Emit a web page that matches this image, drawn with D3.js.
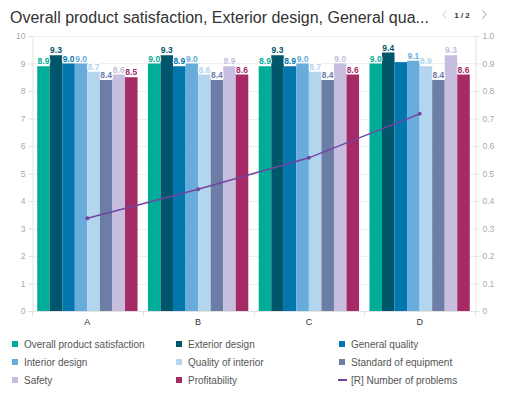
<!DOCTYPE html>
<html>
<head>
<meta charset="utf-8">
<script src="https://cdn.jsdelivr.net/npm/d3@7"></script>
<style>
  body { margin: 0; background: #fff; font-family: "Liberation Sans", Arial, sans-serif; }
</style>
</head>
<body>
<div id="chart"></div>
<script>
let WIDTH = 507,
    HEIGHT = 395;

// chart data
const categories = ["A", "B", "C", "D"];
const seriesNames = [
  "Overall product satisfaction", "Exterior design", "General quality",
  "Interior design", "Quality of interior", "Standard of equipment",
  "Safety", "Profitability"
];
const seriesColors = [
  "#00ad98", "#00566a", "#0277ad", "#68acdb",
  "#b3d5ee", "#6c7da6", "#c6bddf", "#a62a66"
];
// one row per category, one value per series
const valuesA = [8.9, 9.3, 9.0, 9.0, 8.7, 8.4, 8.6, 8.5];
const valuesB = [9.0, 9.3, 8.9, 9.0, 8.6, 8.4, 8.9, 8.6];
const valuesC = [8.9, 9.3, 8.9, 9.0, 8.7, 8.4, 9.0, 8.6];
const valuesD = [9.0, 9.4, 9.05, 9.1, 8.9, 8.4, 9.3, 8.6];
const barValues = [valuesA, valuesB, valuesC, valuesD];
// right axis line series
const lineName = "[R] Number of problems";
const lineColor = "#7045a0";
const problems = [0.337, 0.443, 0.557, 0.717];
// labels the chart hid because they overlap their neighbours
const hiddenLabels = ["D|General quality"];

const leftTicks = d3.range(0, 11);
const rightTicks = [0, 0.1, 0.2, 0.3, 0.4, 0.5, 0.6, 0.7, 0.8, 0.9, 1.0];

const margin = { top: 36, left: 32, right: 32, bottom: 84 };
const plotW = WIDTH - margin.left - margin.right;
const plotH = HEIGHT - margin.top - margin.bottom;

let svg = d3.select("#chart")
    .append("svg")
    .attr("width", WIDTH)
    .attr("height", HEIGHT)
    .style("font-family", "'Liberation Sans', Arial, sans-serif");

// title and pager
svg.append("text")
    .attr("x", 10).attr("y", 23)
    .attr("font-size", 16)
    .attr("fill", "#333")
    .text("Overall product satisfaction, Exterior design, General qua...");
svg.append("path").attr("d", "M446.5,10.5 L443,14.5 L446.5,18.5")
    .attr("fill", "none").attr("stroke", "#ccc").attr("stroke-width", 1);
svg.append("text").attr("x", 462).attr("y", 17.5).attr("font-size", 8).attr("font-weight", "bold")
    .attr("text-anchor", "middle").attr("fill", "#333").text("1 / 2");
svg.append("path").attr("d", "M482.5,10.5 L486,14.5 L482.5,18.5")
    .attr("fill", "none").attr("stroke", "#999").attr("stroke-width", 1);

const g = svg.append("g").attr("transform", `translate(${margin.left},${margin.top})`);

const x0 = d3.scaleBand().domain(categories).range([0, plotW]).paddingInner(0.094).paddingOuter(0.047);
const x1 = d3.scaleBand().domain(seriesNames).range([0, x0.bandwidth()]);
const yL = d3.scaleLinear().domain([0, 10]).range([plotH, 0]);
const yR = d3.scaleLinear().domain([0, 1]).range([plotH, 0]);
const xOuter = d3.scaleBand().domain(categories).range([0, plotW]);

// grid lines
g.append("g").selectAll("line")
    .data(leftTicks)
    .enter().append("line")
    .attr("x1", 0).attr("x2", plotW)
    .attr("y1", d => Math.round(yL(d)) + 0.5).attr("y2", d => Math.round(yL(d)) + 0.5)
    .attr("stroke", "#eeeeee");

// left axis
const leftAxis = g.append("g")
    .attr("transform", "translate(0.5,0)")
    .call(d3.axisLeft(yL).tickValues(leftTicks).tickSize(4).tickPadding(3).tickFormat(d3.format("d")));
leftAxis.selectAll("text").attr("fill", "#aaa").attr("font-size", 8.5).style("font-family", "inherit");
leftAxis.selectAll("line").attr("stroke", "#e2e2e2");
leftAxis.select(".domain").attr("stroke", "#e2e2e2");

// right axis
const rightAxis = g.append("g")
    .attr("transform", `translate(${plotW + 0.5},0)`)
    .call(d3.axisRight(yR).tickValues(rightTicks).tickSize(4).tickPadding(3)
        .tickFormat(d => d === 0 ? "0" : d3.format(".1f")(d)));
rightAxis.selectAll("text").attr("fill", "#aaa").attr("font-size", 8.5).style("font-family", "inherit");
rightAxis.selectAll("line").attr("stroke", "#e2e2e2");
rightAxis.select(".domain").attr("stroke", "#e2e2e2");

// bottom axis: ticks at category boundaries
const bottom = g.append("g").attr("transform", `translate(0,${plotH})`);
bottom.append("line").attr("x1", 0).attr("x2", plotW).attr("y1", 0.5).attr("y2", 0.5).attr("stroke", "#e2e2e2");
bottom.selectAll(".tk")
    .data(categories.concat(["end"]))
    .enter().append("line")
    .attr("x1", (d, i) => Math.round(i * xOuter.step()) + 0.5)
    .attr("x2", (d, i) => Math.round(i * xOuter.step()) + 0.5)
    .attr("y1", 0).attr("y2", 5)
    .attr("stroke", "#e2e2e2");
bottom.selectAll(".cat")
    .data(categories)
    .enter().append("text")
    .attr("x", d => x0(d) + x0.bandwidth() / 2)
    .attr("y", 14)
    .attr("text-anchor", "middle")
    .attr("font-size", 9)
    .attr("fill", "#333")
    .text(d => d);

// flatten bar data
const bars = [];
categories.forEach((c, ci) => {
    seriesNames.forEach((s, si) => {
        bars.push({ cat: c, series: s, value: barValues[ci][si], color: seriesColors[si] });
    });
});

g.append("g").selectAll("rect")
    .data(bars)
    .enter().append("rect")
    .attr("x", d => x0(d.cat) + x1(d.series))
    .attr("width", x1.bandwidth())
    .attr("y", d => yL(d.value))
    .attr("height", d => plotH - yL(d.value))
    .attr("fill", d => d.color);

// data labels
g.append("g").selectAll("text")
    .data(bars.filter(d => !hiddenLabels.includes(d.cat + "|" + d.series)))
    .enter().append("text")
    .attr("x", d => x0(d.cat) + x1(d.series) + x1.bandwidth() / 2)
    .attr("y", d => yL(d.value) - 2)
    .attr("text-anchor", "middle")
    .attr("font-size", 8.5)
    .attr("font-weight", "bold")
    .attr("fill", d => d.color)
    .attr("stroke", "#fff")
    .attr("stroke-width", 2)
    .attr("paint-order", "stroke")
    .text(d => d3.format(".1f")(d.value));

// line on right axis
const line = d3.line()
    .x((d, i) => x0(categories[i]) + x0.bandwidth() / 2)
    .y(d => yR(d));
g.append("path")
    .datum(problems)
    .attr("d", line)
    .attr("fill", "none")
    .attr("stroke", lineColor)
    .attr("stroke-width", 1.5);
g.append("g").selectAll("circle")
    .data(problems)
    .enter().append("circle")
    .attr("cx", (d, i) => x0(categories[i]) + x0.bandwidth() / 2)
    .attr("cy", d => yR(d))
    .attr("r", 2)
    .attr("fill", lineColor);

// legend, three columns
const legendItems = seriesNames.map((s, i) => ({ name: s, color: seriesColors[i], type: "square" }))
    .concat([{ name: lineName, color: lineColor, type: "line" }]);
const colX = [12, 176, 339];
const rowY = [344, 362, 380];
const legend = svg.append("g").selectAll("g")
    .data(legendItems)
    .enter().append("g")
    .attr("transform", (d, i) => `translate(${colX[i % 3]},${rowY[Math.floor(i / 3)]})`);
legend.filter(d => d.type === "square").append("rect")
    .attr("x", 0).attr("y", -3).attr("width", 6).attr("height", 6)
    .attr("fill", d => d.color);
legend.filter(d => d.type === "line").append("line")
    .attr("x1", -1).attr("x2", 8).attr("y1", 0).attr("y2", 0)
    .attr("stroke", d => d.color).attr("stroke-width", 2);
legend.append("text")
    .attr("x", 12).attr("y", 3.5)
    .attr("font-size", 10)
    .attr("fill", "#555")
    .text(d => d.name);
</script>
</body>
</html>
